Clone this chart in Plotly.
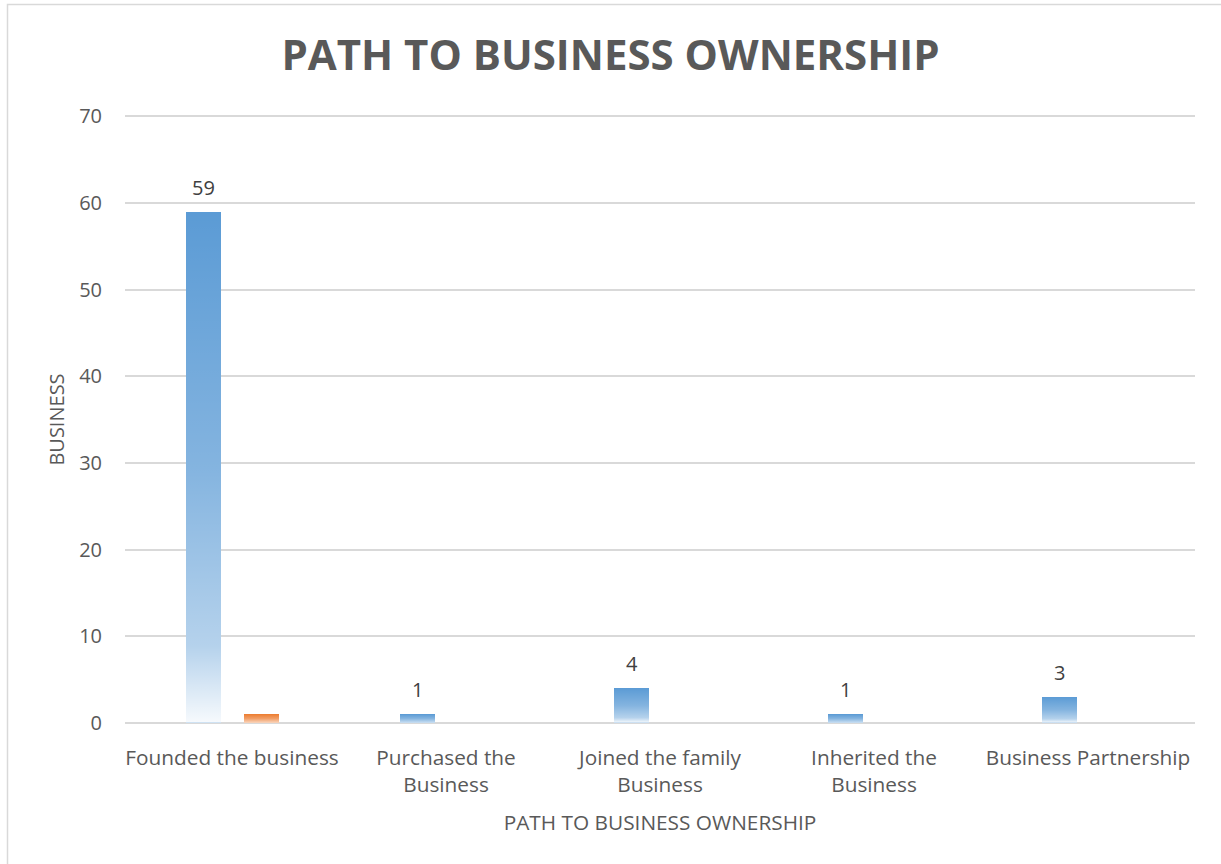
import plotly.graph_objects as go

# ---- data ----
categories = ["Founded the business", "Purchased the<br>Business",
              "Joined the family<br>Business", "Inherited the<br>Business",
              "Business Partnership"]
series_blue = [59, 1, 4, 1, 3]
series_orange = [1, 0, 0, 0, 0]
y_ticks = [0, 10, 20, 30, 40, 50, 60, 70]

# ---- layout constants ----
W, H = 1221, 864
L, R, T, B = 125, 26, 114, 139
BAR_W = 0.1636
OFF_BLUE = -0.215
OFF_ORANGE = 0.056
BLUE = "#5B9BD5"
ORANGE = "#ED7D31"
FONT = "Open Sans"
TXT = "#595959"

xs = list(range(len(categories)))

fig = go.Figure()
fig.add_trace(go.Bar(
    x=xs, y=series_blue, width=BAR_W, offset=OFF_BLUE,
    marker=dict(color=BLUE, line=dict(width=0)),
    name="Series1", showlegend=False))
fig.add_trace(go.Bar(
    x=xs, y=series_orange, width=BAR_W, offset=OFF_ORANGE,
    marker=dict(color=ORANGE, line=dict(width=0)),
    name="Series2", showlegend=False))

# gradient overlays (white fade toward the base of each bar)
fade = [[0, "rgba(255,255,255,0.95)"], [0.15, "rgba(255,255,255,0.55)"],
        [0.5, "rgba(255,255,255,0.25)"], [1, "rgba(255,255,255,0)"]]
for vals, off in ((series_blue, OFF_BLUE), (series_orange, OFF_ORANGE)):
    for xi, v in zip(xs, vals):
        if v <= 0:
            continue
        x0, x1 = xi + off, xi + off + BAR_W
        fig.add_trace(go.Scatter(
            x=[x0, x1, x1, x0, x0], y=[0, 0, v, v, 0],
            mode="lines", line=dict(width=0), fill="toself",
            fillgradient=dict(type="vertical", colorscale=fade),
            hoverinfo="skip", showlegend=False))

# data labels for the blue series
for xi, v in zip(xs, series_blue):
    fig.add_annotation(x=xi + OFF_BLUE + BAR_W / 2, y=v, text=str(v),
                       showarrow=False, yanchor="bottom", yshift=9,
                       font=dict(family=FONT, size=20, color="#404040"))

pw, ph = W - L - R, H - T - B
fig.add_shape(type="rect", xref="paper", yref="paper",
              x0=(7.5 - L) / pw, x1=(W + 10 - L) / pw,
              y0=(H - B - (H + 10)) / ph, y1=(H - B - 4.5) / ph,
              line=dict(color="#D9D9D9", width=1.5), fillcolor="rgba(0,0,0,0)",
              layer="below")

fig.update_layout(
    width=W, height=H, margin=dict(l=L, r=R, t=T, b=B),
    paper_bgcolor="white", plot_bgcolor="white",
    font=dict(family=FONT, color=TXT),
    title=dict(text="<b>PATH TO BUSINESS OWNERSHIP</b>", x=0.5, xanchor="center",
               y=1 - 55 / H, yanchor="middle",
               font=dict(family=FONT, size=42, color=TXT)),
    xaxis=dict(range=[-0.5, 4.5], tickvals=xs, ticktext=categories,
               showgrid=False, zeroline=False, showline=False, ticks="",
               ticklabelstandoff=18,
               tickfont=dict(family=FONT, size=20.8, color=TXT),
               title=dict(text="PATH TO BUSINESS OWNERSHIP", standoff=18,
                          font=dict(family=FONT, size=20.8, color=TXT))),
    yaxis=dict(range=[-0.25, 70.25], tickvals=y_ticks, showgrid=True,
               gridcolor="#D9D9D9", gridwidth=1.5, zeroline=False,
               showline=False, ticks="", ticklabelstandoff=22,
               tickfont=dict(family=FONT, size=20, color=TXT),
               title=dict(text="BUSINESS", standoff=9,
                          font=dict(family=FONT, size=20, color=TXT))),
    bargap=0, barmode="overlay",
)

fig.write_html("out.html")
